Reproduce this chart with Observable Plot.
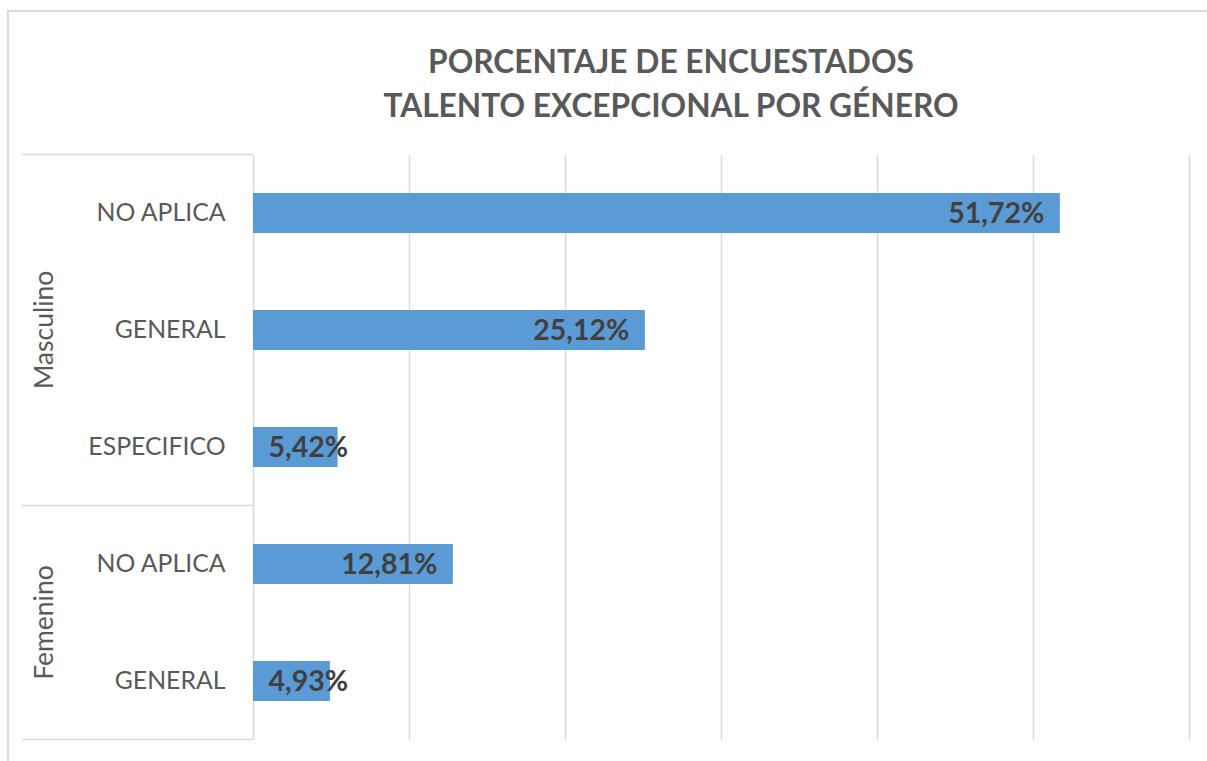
<!DOCTYPE html>
<html>
<head>
<meta charset="utf-8">
<script src="https://cdn.jsdelivr.net/npm/d3@7"></script>
<script src="https://cdn.jsdelivr.net/npm/@observablehq/plot@0.6"></script>
<style>
  html, body { margin: 0; padding: 0; background: #fff; }
  #wrap { position: relative; width: 1207px; height: 761px; overflow: hidden; font-family: Lato, "Open Sans", sans-serif; }
  #frame { position: absolute; left: 7px; top: 10px; width: 1400px; height: 900px; border: 2px solid #d9d9d9; box-sizing: border-box; }
  #title { position: absolute; left: 0; top: 39px; width: 1342px; text-align: center; color: #595959; font-weight: bold; font-size: 31.7px; line-height: 44px; }
  #chart { position: absolute; left: 0; top: 140px; }
</style>
</head>
<body>
<div id="wrap">
  <div id="frame"></div>
  <div id="title"></div>
  <div id="chart"></div>
</div>
<script>
const titleLines = ["PORCENTAJE DE ENCUESTADOS", "TALENTO EXCEPCIONAL POR GÉNERO"];
const categories = ["NO APLICA", "GENERAL", "ESPECIFICO", "NO APLICA", "GENERAL"];
const genders = ["Masculino", "Masculino", "Masculino", "Femenino", "Femenino"];
const values = [51.72, 25.12, 5.42, 12.81, 4.93];
const xTicks = [0, 10, 20, 30, 40, 50, 60];

document.getElementById("title").innerHTML = titleLines.map(t => `<div>${t}</div>`).join("");

const data = categories.map((c, i) => ({ key: genders[i] + "|" + c, category: c, gender: genders[i], value: values[i] }));
const keys = data.map(d => d.key);
const fmt = d => d.value.toFixed(2).replace(".", ",") + "%";

const plot = Plot.plot({
  width: 1207,
  height: 621,
  marginLeft: 253,
  marginRight: 18,
  marginTop: 15,
  marginBottom: 21,
  style: { fontFamily: "Lato, 'Open Sans', sans-serif", color: "#595959", background: "transparent" },
  x: { domain: [0, 60], axis: null },
  y: { domain: keys, paddingInner: 0.657, paddingOuter: 0.3285, axis: null },
  marks: [
    Plot.ruleX(xTicks, { stroke: "#d9d9d9", strokeWidth: 1.5 }),
    Plot.barX(data, { x: "value", y: "key", fill: "#5B9BD5" }),
    Plot.text(data.filter(d => d.value >= 10), { x: "value", y: "key", text: fmt, textAnchor: "end", dx: -16, fontWeight: "bold", fontSize: 28.5, fill: "#404040" }),
    Plot.text(data.filter(d => d.value < 10), { x: 0, y: "key", text: fmt, textAnchor: "start", dx: 15, fontWeight: "bold", fontSize: 28.5, fill: "#404040" }),
    Plot.axisY({ tickSize: 0, tickPadding: 28, fontSize: 24.8, tickFormat: k => k.split("|")[1], label: null })
  ]
});

document.getElementById("chart").appendChild(plot);

// Group brackets and labels using the plot's own y scale
const ys = plot.scale("y");
const bw = ys.bandwidth;
const centers = keys.map(k => ys.apply(k) + bw / 2);
const step = centers[1] - centers[0];
const groupNames = [...new Set(genders)];
const svg = d3.select(plot);
const g = svg.append("g");
const x0 = 253;
groupNames.forEach((name, gi) => {
  const idx = genders.map((gg, i) => gg === name ? i : -1).filter(i => i >= 0);
  const top = centers[idx[0]] - step / 2;
  const bottom = centers[idx[idx.length - 1]] + step / 2;
  g.append("line").attr("x1", 22).attr("x2", x0).attr("y1", top).attr("y2", top)
    .attr("stroke", "#d9d9d9").attr("stroke-width", 1.5);
  if (gi === groupNames.length - 1) {
    g.append("line").attr("x1", 22).attr("x2", x0).attr("y1", bottom).attr("y2", bottom)
      .attr("stroke", "#d9d9d9").attr("stroke-width", 1.5);
  }
  const cy = (top + bottom) / 2;
  g.append("text").attr("transform", `translate(43,${cy}) rotate(-90)`)
    .attr("text-anchor", "middle").attr("dominant-baseline", "central")
    .attr("font-size", 26.5).attr("fill", "#595959").text(name);
});
</script>
</body>
</html>
